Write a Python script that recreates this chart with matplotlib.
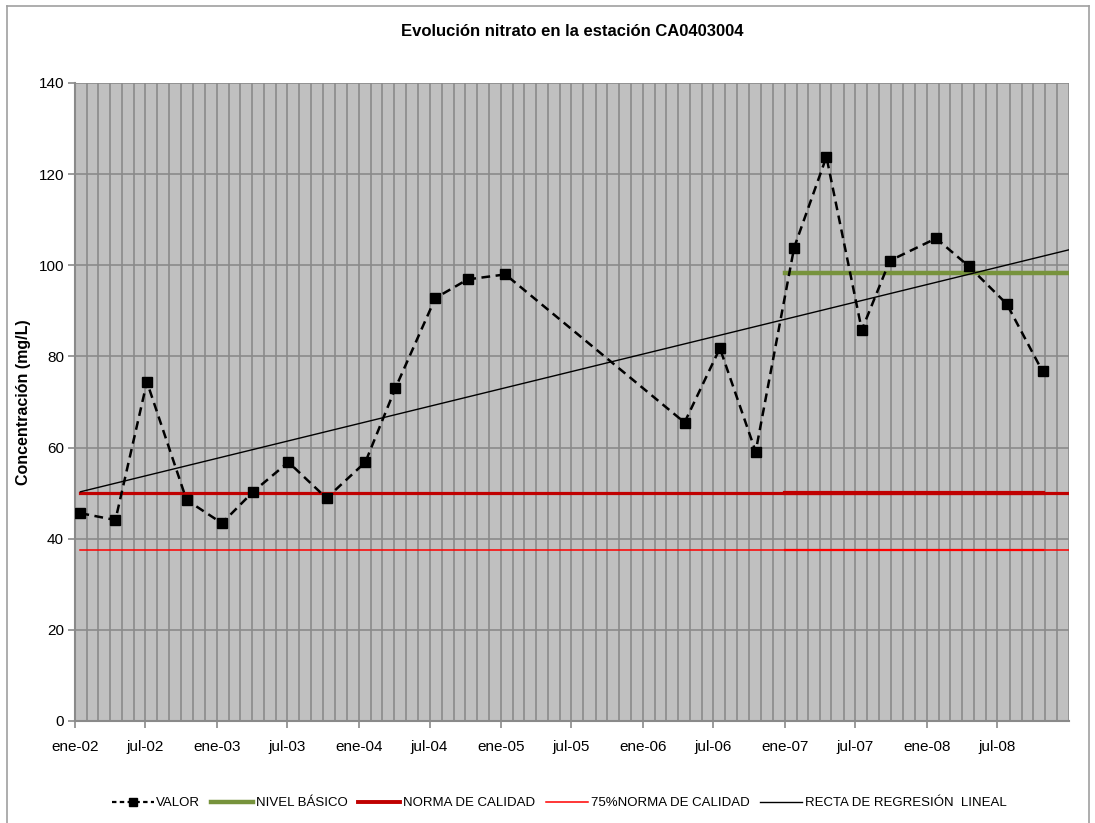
import matplotlib
matplotlib.use("Agg")
import matplotlib.pyplot as plt
from matplotlib.lines import Line2D
import datetime as dt

plt.rcParams['font.family'] = ['Liberation Sans', 'DejaVu Sans']

# ---- data ----
dates = ["2002-01-15", "2002-04-15", "2002-07-05", "2002-10-15", "2003-01-14",
         "2003-04-04", "2003-07-04", "2003-10-10", "2004-01-18", "2004-04-04",
         "2004-07-16", "2004-10-07", "2005-01-12", "2006-04-18", "2006-07-18",
         "2006-10-18", "2007-01-25", "2007-04-18", "2007-07-18", "2007-09-28",
         "2008-01-25", "2008-04-18", "2008-07-25", "2008-10-25"]
valor = [45.6, 44.1, 74.4, 48.5, 43.4, 50.3, 56.8, 48.9, 56.8, 73.0,
         92.8, 96.9, 98.0, 65.5, 81.8, 59.1, 103.9, 123.8, 85.8, 101.0,
         105.9, 99.8, 91.5, 76.7]
nivel_basico = 98.4
nivel_basico_start = "2007-01-01"
norma = 50.0
norma75 = 37.5
reg_start_value = 50.3
reg_end_value = 103.4
x_start = "2002-01-01"
x_end = "2009-01-01"
tick_labels = ["ene-02", "jul-02", "ene-03", "jul-03", "ene-04", "jul-04", "ene-05",
               "jul-05", "ene-06", "jul-06", "ene-07", "jul-07", "ene-08", "jul-08"]
title = "Evolución nitrato en la estación CA0403004"
ylabel = "Concentración (mg/L)"

D = lambda s: dt.datetime.strptime(s, "%Y-%m-%d")
xd = [D(s) for s in dates]
x0, x1 = D(x_start), D(x_end)
nb0 = D(nivel_basico_start)

fig = plt.figure(figsize=(10.95, 8.23), dpi=100)
ax = fig.add_axes([75/1095, 1-721/823, (1069-75)/1095, (721-83)/823])
ax.set_facecolor('#C0C0C0')

grid_c = '#8A8A8A'
# monthly vertical grid
months = [dt.datetime(2002 + m // 12, m % 12 + 1, 1) for m in range(0, 85)]
for m in months:
    ax.axvline(m, color=grid_c, lw=1.2, zorder=1)
for yv in range(20, 141, 20):
    ax.axhline(yv, color=grid_c, lw=1.2, zorder=1)

# reference lines
ax.plot([xd[0], x1], [norma75, norma75], color='#FF0000', lw=1.1, zorder=3)
ax.plot([nb0, xd[-1]], [norma75, norma75], color='#FF0000', lw=1.6, zorder=3)
ax.plot([xd[0], x1], [norma, norma], color='#C00000', lw=2.3, zorder=3)
ax.plot([nb0, xd[-1]], [norma, norma], color='#C00000', lw=3.0, zorder=3)
ax.plot([nb0, x1], [nivel_basico, nivel_basico], color='#77933C', lw=3.2, zorder=3)
ax.plot([xd[0], x1], [reg_start_value, reg_end_value], color='black', lw=1.0, zorder=4)
ax.plot(xd, valor, color='black', lw=1.8, ls=(0, (3.5, 2.2)), marker='s', ms=6.5,
        mfc='black', mec='black', zorder=5)

ax.set_xlim(x0, x1)
ax.set_ylim(0, 140)
ticks = [dt.datetime(2002 + i // 2, 1 if i % 2 == 0 else 7, 1) for i in range(len(tick_labels))]
ax.set_xticks(ticks)
ax.set_xticklabels(tick_labels, fontsize=11)
ax.set_yticks(range(0, 141, 20))
ax.set_yticklabels([str(v) for v in range(0, 141, 20)], fontsize=11)
ax.tick_params(axis='both', direction='out', length=5, color=grid_c, width=1.2)
ax.tick_params(axis='x', pad=9)
ax.tick_params(axis='y', pad=3)
for s in ['top', 'right']:
    ax.spines[s].set_visible(False)
for s in ['left', 'bottom']:
    ax.spines[s].set_color(grid_c)
    ax.spines[s].set_linewidth(1.5)

ax.set_ylabel(ylabel, fontsize=11.5, fontweight='bold')
ax.yaxis.set_label_coords((31 - 75) / 994, 0.5)
fig.text(572/1095, 1-31/823, title, ha='center', va='center', fontsize=12, fontweight='bold')

handles = [
    Line2D([], [], color='black', lw=1.6, ls=(0, (2, 1.5)), marker='s', ms=6, mfc='black'),
    Line2D([], [], color='#77933C', lw=3.2),
    Line2D([], [], color='#C00000', lw=2.8),
    Line2D([], [], color='#FF0000', lw=1.1),
    Line2D([], [], color='black', lw=1.0),
]
labels = ["VALOR", "NIVEL BÁSICO", "NORMA DE CALIDAD", "75%NORMA DE CALIDAD",
          "RECTA DE REGRESIÓN  LINEAL"]
fig.legend(handles, labels, loc='center', bbox_to_anchor=(559/1095, 1-803/823), ncol=5,
           frameon=False, fontsize=9.5, handlelength=3.2, handletextpad=0.2,
           columnspacing=0.8)

# outer chart border
border_c = '#A0A0A0'
fig.add_artist(Line2D([7/1095, 7/1095], [0, 1-6/823], color=border_c, lw=1.2))
fig.add_artist(Line2D([7/1095, 1089/1095], [1-6/823, 1-6/823], color=border_c, lw=1.2))
fig.add_artist(Line2D([1089/1095, 1089/1095], [0, 1-6/823], color=border_c, lw=1.2))

fig.savefig("out.png", dpi=100)
